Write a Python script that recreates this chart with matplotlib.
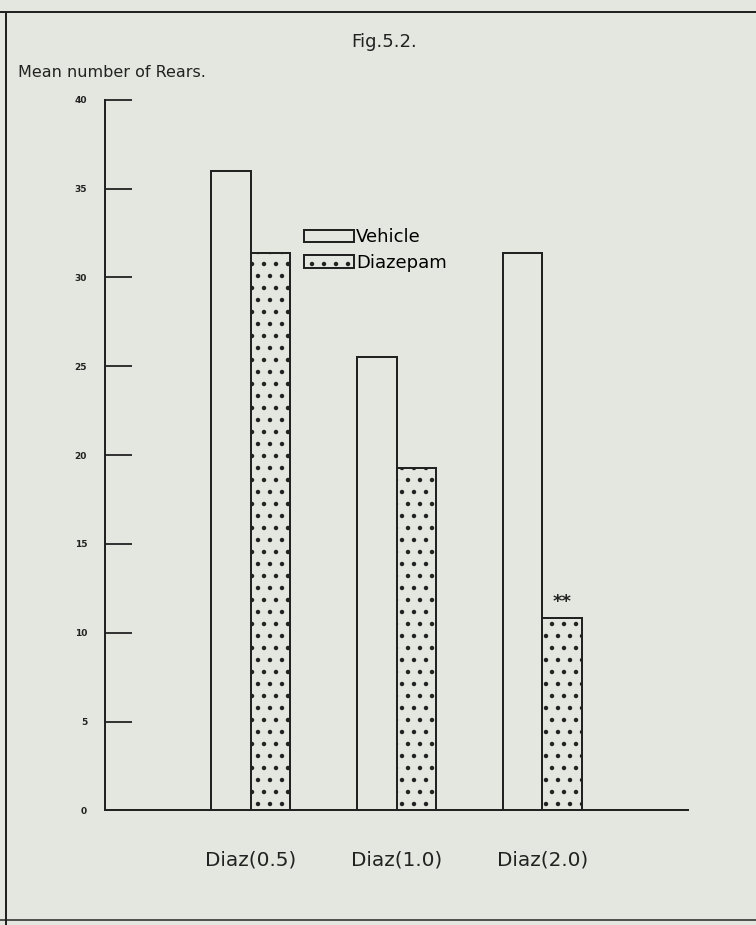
import matplotlib
matplotlib.use("Agg")
import matplotlib.pyplot as plt
import numpy as np

# values
groups = ["Diaz(0.5)", "Diaz(1.0)", "Diaz(2.0)"]
vehicle = [36.0, 25.5, 31.4]
diazepam = [31.4, 19.3, 10.8]
y_ticks = [0, 5, 10, 15, 20, 25, 30, 35, 40]
signif = ["", "", "**"]

paper = "#e4e7df"
ink = "#222222"

plt.rcParams["hatch.linewidth"] = 2.0
plt.rcParams["font.family"] = ["DejaVu Sans"]

# dpi 72 so that the '.' hatch spacing matches the scan
fig = plt.figure(figsize=(756 / 72, 925 / 72), dpi=72, facecolor=paper)
ax = fig.add_axes([0.139, 0.124, 0.771, 0.768])
ax.set_facecolor(paper)

x = np.arange(1, len(groups) + 1)
w = 0.27
b1 = ax.bar(x - w / 2, vehicle, w, facecolor=paper, edgecolor=ink, linewidth=2,
            label="Vehicle")
b2 = ax.bar(x + w / 2, diazepam, w, facecolor=paper, edgecolor=ink, linewidth=2,
            hatch=".", label="Diazepam")

for xi, v, s in zip(x + w / 2, diazepam, signif):
    if s:
        ax.text(xi, v + 0.4, s, ha="center", va="bottom", fontsize=18,
                fontweight="bold", color=ink)

ax.set_xlim(0, 4)
ax.set_ylim(0, 40)
ax.set_yticks(y_ticks)
ax.set_yticklabels([str(t) for t in y_ticks], fontsize=9, fontweight="bold",
                   color=ink)
ax.set_xticks(x)
ax.set_xticklabels(groups, fontsize=20, color=ink)
ax.tick_params(axis="y", direction="in", length=27, width=1.8, pad=18,
               color=ink)
ax.tick_params(axis="x", length=0, pad=40)
for side in ["top", "right"]:
    ax.spines[side].set_visible(False)
for side in ["left", "bottom"]:
    ax.spines[side].set_linewidth(2)
    ax.spines[side].set_color(ink)

ax.legend(handles=[b1, b2], loc="upper left", bbox_to_anchor=(0.402, 0.753),
          bbox_transform=fig.transFigure, frameon=False, fontsize=18,
          handlelength=2.8, handleheight=0.7, handletextpad=0.1,
          labelspacing=0.42, borderpad=0, borderaxespad=0)

fig.text(0.508, 0.955, "Fig.5.2.", ha="center", va="center", fontsize=18,
         color=ink)
fig.text(0.024, 0.922, "Mean number of Rears.", ha="left", va="center",
         fontsize=16, color=ink)

# page frame from the scan
fig.add_artist(plt.Line2D([0, 1], [0.987, 0.987], color=ink, lw=2))
fig.add_artist(plt.Line2D([0.008, 0.008], [0, 0.987], color=ink, lw=2))
fig.add_artist(plt.Line2D([0, 1], [0.005, 0.005], color=ink, lw=1.5))

fig.savefig("out.png", dpi=72, facecolor=paper)
